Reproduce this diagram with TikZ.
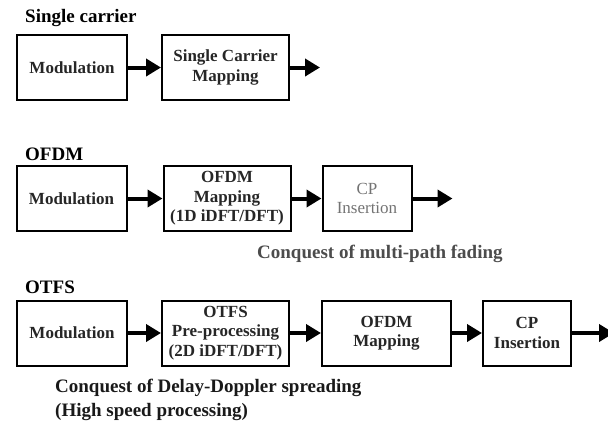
\documentclass[tikz,border=0pt]{standalone}
\usepackage{fontspec}
\setmainfont{Liberation Serif}
\usetikzlibrary{arrows.meta,positioning}

\begin{document}
\begin{tikzpicture}[
    x=1pt,
    y=-1pt,
    node distance=33pt,
    block/.style={
        rectangle,
        draw,
        line width=2pt,
        align=center,
        minimum width=#1,
        minimum height=65pt,
        inner sep=1pt,
        text=black!85,
        font=\fontsize{17}{19.5}\selectfont\bfseries
    },
    block/.default=110pt,
    title/.style={
        anchor=west,
        inner sep=0pt,
        font=\fontsize{19}{21}\selectfont\bfseries
    },
    note/.style={
        anchor=west,
        align=left,
        inner sep=0pt,
        font=\fontsize{19}{24}\selectfont\bfseries
    },
    line/.style={
        draw, line width=4pt, -{Triangle[length=15pt,width=17pt]}
    }
]
    \useasboundingbox (0,0) rectangle (608,421);

    % Single carrier
    \node [title] (sctitle) at (25,18) {Single carrier};
    \node [block] (scmod) at (72,67.5) {Modulation};
    \node [block=127pt, right=of scmod] (scmap) {Single Carrier\\Mapping};
    \coordinate [right=30pt of scmap] (scout);

    % OFDM
    \node [title] (oftitle) at (25,154) {OFDM};
    \node [block] (ofmod) at (71.5,198.5) {Modulation};
    \node [block=127pt, right=35pt of ofmod] (ofmap) {OFDM\\Mapping\\(1D iDFT/DFT)};
    \node [block=89pt, right=30pt of ofmap, text=black!55, font=\fontsize{17}{19.5}\selectfont] (ofcp) {CP\\Insertion};
    \coordinate [right=40pt of ofcp] (ofout);
    \node [note, text=black!70] (ofnote) at (257,254) {Conquest of multi-path fading};

    % OTFS
    \node [title] (ottitle) at (25,287) {OTFS};
    \node [block] (otmod) at (72,333) {Modulation};
    \node [block=127pt, right=of otmod] (otpre) {OTFS\\Pre-processing\\(2D iDFT/DFT)};
    \node [block=129pt, right=31pt of otpre] (otmap) {OFDM\\Mapping};
    \node [block=88pt, right=30pt of otmap] (otcp) {CP\\Insertion};
    \coordinate [right=42pt of otcp] (otout);
    \node [note, text=black!90] (otnote) at (55,400) {Conquest of Delay-Doppler spreading\\(High speed processing)};

    % Edges
    \path [line] (scmod) -- (scmap);
    \path [line] (scmap) -- (scout);
    \path [line] (ofmod) -- (ofmap);
    \path [line] (ofmap) -- (ofcp);
    \path [line] (ofcp) -- (ofout);
    \path [line] (otmod) -- (otpre);
    \path [line] (otpre) -- (otmap);
    \path [line] (otmap) -- (otcp);
    \path [line] (otcp) -- (otout);

\end{tikzpicture}
\end{document}
